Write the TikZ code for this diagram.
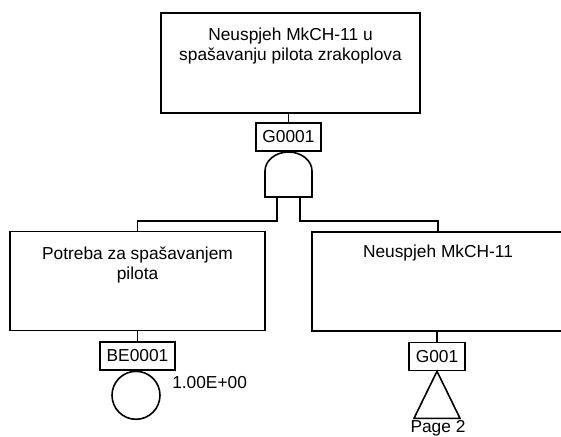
\documentclass[tikz,border=0pt]{standalone}
\usepackage{fontspec}
\setmainfont{Liberation Sans}
\usetikzlibrary{positioning, calc}

\begin{document}
\begin{tikzpicture}[
			x=0.75pt, y=-0.75pt,
			% okviri dogadjaja i oznake
			dogadjaj/.style={draw=black, line width=1.2pt, minimum width=191.5pt, minimum height=74.5pt, inner sep=0pt},
			opis/.style={font=\fontsize{13}{15.5}\selectfont, align=center, inner sep=0pt},
			oznaka/.style={draw=black, line width=1.2pt, font=\fontsize{13}{15}\selectfont, inner xsep=5pt, inner ysep=0pt, minimum height=21pt},
			veza/.style={line width=1.2pt},
			]
			\useasboundingbox (0,0) rectangle (561,436);
			
			% vrh stabla
			\node[dogadjaj, minimum width=194.5pt, minimum height=75pt] (vrh) at (290.5,63) {};
			\node[opis] (vrhT) at (290.5,46) {Neuspjeh MkCH-11 u\\spašavanju pilota zrakoplova};
			\node[oznaka] (G0001) at (288.5,137) {G0001};
			\draw[veza] (vrh.south -| G0001.north) -- (G0001.north);
			
			% I vrata
			\coordinate (vrataL) at (265,197);
			\coordinate (vrataD) at (312,197);
			\draw[veza] (vrataL) -- (265,171) arc[start angle=180, end angle=360, x radius=23.5, y radius=19] -- (vrataD) -- cycle;
			\coordinate (nogaL) at (277,197);
			\coordinate (nogaD) at (300,197);
			
			% lijeva grana
			\node[dogadjaj] (lijevi) at (137.5,281) {};
			\node[opis] (lijeviT) at (137.5,265) {Potreba za spašavanjem\\pilota};
			\node[oznaka] (BE0001) at (137.5,356) {BE0001};
			\node[draw=black, line width=1.2pt, circle, minimum size=36pt, inner sep=0pt, anchor=north] (krug) at (136,370.5) {};
			\node[opis, anchor=west] (vjer) at (172,383) {1.00E+00};
			\draw[veza] (nogaL) -- ++(0,24) -| (lijevi.north);
			\draw[veza] (lijevi.south -| BE0001.north) -- (BE0001.north);
			
			% desna grana
			\node[dogadjaj, minimum width=189pt] (desni) at (438,281.5) {};
			\node[opis] (desniT) at (438,253) {Neuspjeh MkCH-11};
			\node[oznaka] (G001) at (437,356.5) {G001};
			\draw[veza] (nogaD) -- ++(0,24) -| (desni.north);
			\draw[veza] (desni.south -| G001.north) -- (G001.north);
			\draw[veza] (G001.south) -- ++(23,47) -- ++(-46,0) -- cycle;
			\node[opis] (str) at (438,428) {Page 2};
		\end{tikzpicture}
\end{document}
